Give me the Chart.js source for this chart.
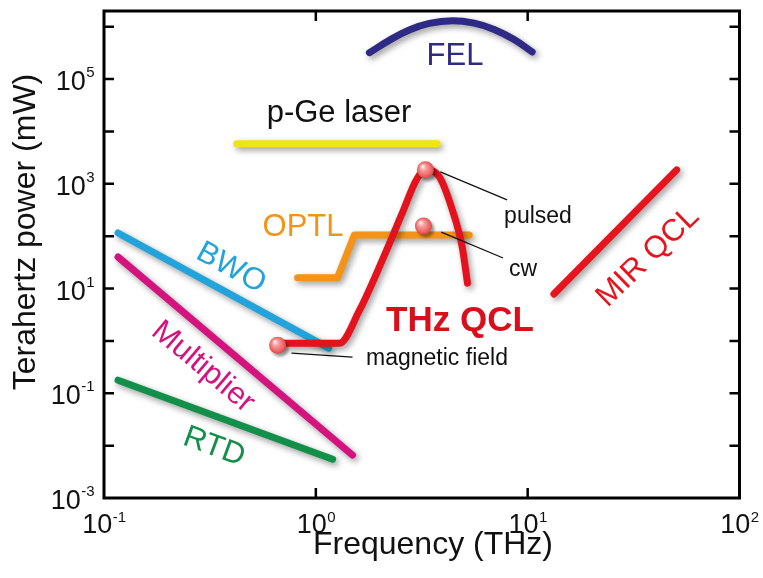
<!DOCTYPE html>
<html>
<head>
<meta charset="utf-8">
<script src="https://cdn.jsdelivr.net/npm/chart.js@4.4.1/dist/chart.umd.min.js"></script>
<style>
html,body{margin:0;padding:0;background:#fff;}
#wrap{width:763px;height:578px;}
</style>
</head>
<body>
<div id="wrap"><canvas id="c" width="763" height="578"></canvas></div>
<script>
// ---- data (frequency in THz, power in mW) ----
const felFreq   = [1.79, 2.22, 2.76, 3.43, 4.41, 5.59, 6.95, 8.63, 10.5];
const felPower  = [3.2e5, 5.5e5, 8.7e5, 1.16e6, 1.3e6, 1.17e6, 8.9e5, 5.7e5, 3.3e5];
const pgeFreq   = [0.423, 3.74];
const pgePower  = [5800, 5800];
const optlFreq  = [0.82, 1.265, 1.52, 5.3];
const optlPower = [16, 16, 105, 105];
const qclFreq   = [0.66, 1.29, 1.61, 2.06, 2.56, 2.98, 3.29, 3.83, 4.41, 4.91, 5.2];
const qclPower  = [0.9, 0.9, 3.9, 35, 278, 1190, 1850, 1360, 317, 62, 12.7];
const mirFreq   = [13.3, 50.5];
const mirPower  = [7.85, 1850];
const bwoFreq   = [0.1165, 1.15];
const bwoPower  = [115, 0.73];
const multFreq  = [0.1165, 1.49];
const multPower = [40, 0.0066];
const rtdFreq   = [0.1165, 1.2];
const rtdPower  = [0.178, 0.0055];
const markerFreq  = [3.29, 3.22, 0.66];
const markerPower = [1850, 157, 0.83];
const pulsedLeaderFreq  = [3.87, 8.0];
const pulsedLeaderPower = [1690, 492];
const cwLeaderFreq  = [3.91, 7.66];
const cwLeaderPower = [120, 38.3];
const magLeaderFreq  = [0.768, 1.49];
const magLeaderPower = [0.585, 0.49];
const yTickExps      = [6, 5, 4, 3, 2, 1, 0, -1, -2, -3];
const yLabelExps     = [5, 3, 1, -1, -3];
const xTickExps      = [-1, 0, 1, 2];
const xLabelExps     = [-1, 0, 1, 2];

const pts = (xs, ys) => xs.map((x, i) => ({x: x, y: ys[i]}));
const FONT = '"Liberation Sans", Arial, Helvetica, sans-serif';

function markerFill(c) {
  const chart = c.chart;
  if (!c.raw || !chart.scales || !chart.scales.x || !chart.scales.y) return '#f06a6a';
  const px = chart.scales.x.getPixelForValue(c.raw.x);
  const py = chart.scales.y.getPixelForValue(c.raw.y);
  if (!Number.isFinite(px) || !Number.isFinite(py)) return '#f06a6a';
  const g = chart.ctx.createRadialGradient(px - 3, py - 3.5, 0.5, px, py, 9);
  g.addColorStop(0, '#fff2f2');
  g.addColorStop(0.3, '#f7a0a0');
  g.addColorStop(0.75, '#ee6464');
  g.addColorStop(1, '#dc4040');
  return g;
}

const lineDs = (label, data, color, extra) => Object.assign({
  label: label, data: data, borderColor: color, backgroundColor: color,
  borderWidth: 7, pointRadius: 0, tension: 0, borderCapStyle: 'round',
  borderJoinStyle: 'round', fill: false, shadow: true, clip: false
}, extra || {});

const datasets = [
  {label: 'markers', data: pts(markerFreq, markerPower), showLine: false,
   pointRadius: 8.5, pointBorderWidth: 0, pointBackgroundColor: markerFill,
   borderColor: 'rgba(0,0,0,0)', shadow: true, shadowSmall: true, clip: false},
  lineDs('pulsed-leader', pts(pulsedLeaderFreq, pulsedLeaderPower), '#111', {borderWidth: 1.3, shadow: false, borderCapStyle: 'butt'}),
  lineDs('cw-leader', pts(cwLeaderFreq, cwLeaderPower), '#111', {borderWidth: 1.3, shadow: false, borderCapStyle: 'butt'}),
  lineDs('mag-leader', pts(magLeaderFreq, magLeaderPower), '#111', {borderWidth: 1.3, shadow: false, borderCapStyle: 'butt'}),
  lineDs('THz QCL', pts(qclFreq, qclPower), '#e3121c', {cubicInterpolationMode: 'monotone'}),
  lineDs('OPTL', pts(optlFreq, optlPower), '#f39419'),
  lineDs('MIR QCL', pts(mirFreq, mirPower), '#e8141d'),
  lineDs('BWO', pts(bwoFreq, bwoPower), '#22a3dc'),
  lineDs('Multiplier', pts(multFreq, multPower), '#d4137f'),
  lineDs('RTD', pts(rtdFreq, rtdPower), '#12904a'),
  lineDs('p-Ge laser', pts(pgeFreq, pgePower), '#f2e21b'),
  lineDs('FEL', pts(felFreq, felPower), '#2e2a86', {tension: 0.4})
];

// text annotations (pixel layout)
const annotations = [
  {t: 'FEL', x: 455, y: 56, size: 31, color: '#2e2a86'},
  {t: 'p-Ge laser', x: 339, y: 113, size: 31, color: '#111'},
  {t: 'OPTL', x: 303, y: 227, size: 31, color: '#f39419'},
  {t: 'THz QCL', x: 460, y: 321, size: 35, color: '#d9101c', bold: true},
  {t: 'pulsed', x: 538, y: 217, size: 23, color: '#111'},
  {t: 'cw', x: 523, y: 270, size: 23, color: '#111'},
  {t: 'magnetic field', x: 437, y: 359, size: 23, color: '#111'},
  {t: 'MIR QCL', x: 648, y: 257, size: 31, color: '#e8141d', angle: -44},
  {t: 'BWO', x: 231, y: 268, size: 31, color: '#22a3dc', angle: 28.6},
  {t: 'Multiplier', x: 203, y: 367, size: 31, color: '#d4137f', angle: 40},
  {t: 'RTD', x: 214, y: 447, size: 31, color: '#12904a', angle: 20.2}
];

const decor = {
  id: 'decor',
  beforeDraw(chart) {
    const ctx = chart.ctx;
    ctx.save();
    ctx.fillStyle = '#fff';
    ctx.fillRect(0, 0, chart.width, chart.height);
    ctx.restore();
  },
  beforeDatasetDraw(chart, args) {
    const ds = chart.data.datasets[args.index];
    if (ds.shadow) {
      const ctx = chart.ctx;
      ctx.save();
      ctx.shadowColor = 'rgba(0,0,0,0.4)';
      ctx.shadowBlur = ds.shadowSmall ? 3 : 6;
      ctx.shadowOffsetX = 2.5;
      ctx.shadowOffsetY = 3;
    }
  },
  afterDatasetDraw(chart, args) {
    const ds = chart.data.datasets[args.index];
    if (ds.shadow) chart.ctx.restore();
  },
  afterDraw(chart) {
    const ctx = chart.ctx;
    const a = chart.chartArea;
    const xs = chart.scales.x, ys = chart.scales.y;
    ctx.save();
    // frame
    ctx.strokeStyle = '#000';
    ctx.lineWidth = 3;
    ctx.strokeRect(a.left, a.top, a.right - a.left, a.bottom - a.top);
    // inward ticks
    ctx.lineWidth = 2.5;
    ctx.beginPath();
    yTickExps.forEach(e => {
      const py = ys.getPixelForValue(Math.pow(10, e));
      if (py < a.bottom - 2 && py > a.top + 2) {
        ctx.moveTo(a.left, py); ctx.lineTo(a.left + 10, py);
        ctx.moveTo(a.right, py); ctx.lineTo(a.right - 10, py);
      }
    });
    xTickExps.forEach(e => {
      const px = xs.getPixelForValue(Math.pow(10, e));
      if (px > a.left + 2 && px < a.right - 2) {
        ctx.moveTo(px, a.bottom); ctx.lineTo(px, a.bottom - 10);
        ctx.moveTo(px, a.top); ctx.lineTo(px, a.top + 10);
      }
    });
    ctx.stroke();
    // tick labels
    ctx.fillStyle = '#111';
    ctx.textBaseline = 'alphabetic';
    ctx.textAlign = 'left';
    const big = '27px ' + FONT, small = '15px ' + FONT;
    yLabelExps.forEach(e => {
      const py = ys.getPixelForValue(Math.pow(10, e));
      const ex = String(e);
      ctx.font = big; const w1 = ctx.measureText('10').width;
      ctx.font = small; const w2 = ctx.measureText(ex).width;
      const x0 = a.left - 10 - w1 - w2;
      ctx.font = big; ctx.fillText('10', x0, py + 11);
      ctx.font = small; ctx.fillText(ex, x0 + w1 + 0.5, py - 2);
    });
    xLabelExps.forEach(e => {
      const px = xs.getPixelForValue(Math.pow(10, e));
      const ex = String(e);
      ctx.font = big; const w1 = ctx.measureText('10').width;
      ctx.font = small; const w2 = ctx.measureText(ex).width;
      const x0 = px - (w1 + w2) / 2;
      ctx.font = big; ctx.fillText('10', x0, a.bottom + 35);
      ctx.font = small; ctx.fillText(ex, x0 + w1 + 0.5, a.bottom + 24);
    });
    // axis titles
    ctx.font = '32px ' + FONT;
    ctx.textAlign = 'center';
    ctx.fillText('Frequency (THz)', 433, 554);
    ctx.save();
    ctx.translate(35, 232);
    ctx.rotate(-Math.PI / 2);
    ctx.fillText('Terahertz power (mW)', 0, 0);
    ctx.restore();
    // annotations
    annotations.forEach(l => {
      ctx.save();
      ctx.font = (l.bold ? 'bold ' : '') + l.size + 'px ' + FONT;
      ctx.fillStyle = l.color;
      ctx.textAlign = 'center';
      ctx.textBaseline = 'middle';
      ctx.translate(l.x, l.y);
      if (l.angle) ctx.rotate(l.angle * Math.PI / 180);
      ctx.fillText(l.t, 0, 0);
      ctx.restore();
    });
    ctx.restore();
  }
};

new Chart(document.getElementById('c'), {
  type: 'line',
  data: {datasets: datasets},
  options: {
    responsive: false,
    animation: false,
    events: [],
    layout: {padding: {left: 104, right: 23.5, top: 11, bottom: 80}},
    plugins: {legend: {display: false}, tooltip: {enabled: false}},
    scales: {
      x: {type: 'logarithmic', min: 0.1, max: 100, display: false},
      y: {type: 'logarithmic', min: 0.001, max: 2e6, display: false}
    }
  },
  plugins: [decor]
});
</script>
</body>
</html>
